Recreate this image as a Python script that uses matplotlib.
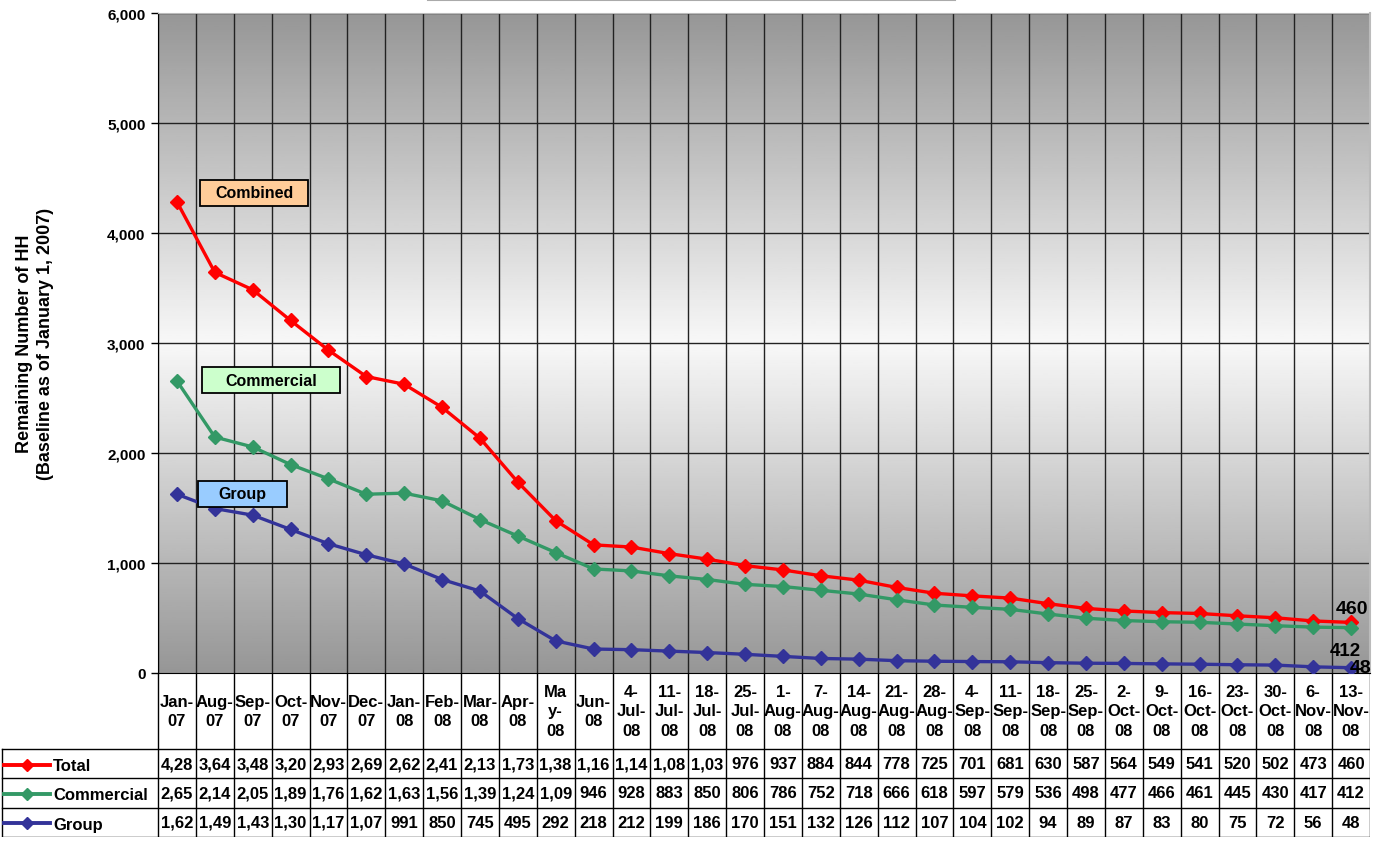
import matplotlib
matplotlib.use("Agg")
import matplotlib.pyplot as plt
from matplotlib.lines import Line2D
from matplotlib.patches import Rectangle
import matplotlib.ticker as mtick
import numpy as np

plt.rcParams["font.family"] = ["Liberation Sans", "DejaVu Sans"]

# ---- data ----
period_labels = [
    "Jan-\n07", "Aug-\n07", "Sep-\n07", "Oct-\n07", "Nov-\n07", "Dec-\n07",
    "Jan-\n08", "Feb-\n08", "Mar-\n08", "Apr-\n08", "Ma\ny-\n08", "Jun-\n08",
    "4-\nJul-\n08", "11-\nJul-\n08", "18-\nJul-\n08", "25-\nJul-\n08",
    "1-\nAug-\n08", "7-\nAug-\n08", "14-\nAug-\n08", "21-\nAug-\n08",
    "28-\nAug-\n08", "4-\nSep-\n08", "11-\nSep-\n08", "18-\nSep-\n08",
    "25-\nSep-\n08", "2-\nOct-\n08", "9-\nOct-\n08", "16-\nOct-\n08",
    "23-\nOct-\n08", "30-\nOct-\n08", "6-\nNov-\n08", "13-\nNov-\n08",
]
total = [4283, 3642, 3484, 3205, 2935, 2695, 2625, 2415, 2135, 1735, 1385,
         1165, 1145, 1085, 1035, 976, 937, 884, 844, 778, 725, 701, 681, 630,
         587, 564, 549, 541, 520, 502, 473, 460]
commercial = [2655, 2145, 2055, 1895, 1765, 1625, 1635, 1565, 1395, 1245,
              1095, 946, 928, 883, 850, 806, 786, 752, 718, 666, 618, 597, 579,
              536, 498, 477, 466, 461, 445, 430, 417, 412]
group = [1625, 1495, 1435, 1305, 1175, 1075, 991, 850, 745, 495, 292, 218,
         212, 199, 186, 170, 151, 132, 126, 112, 107, 104, 102, 94, 89, 87, 83,
         80, 75, 72, 56, 48]

series = [
    ("Total", total, "#ff0000"),
    ("Commercial", commercial, "#339966"),
    ("Group", group, "#333399"),
]

# callout boxes: label, face colour, box in pixels (left, top, right, bottom)
callouts = [
    ("Combined", "#ffcc99", (200, 181, 308, 207)),
    ("Commercial", "#ccffcc", (202, 368, 340, 394)),
    ("Group", "#99ccff", (198, 482, 287, 508)),
]

# ---- layout (pixels) ----
W, H = 1384, 845
PL, PR, PT, PB = 158, 1370, 14, 674
TB = 838
n = len(total)
cw = (PR - PL) / n

fig = plt.figure(figsize=(W / 100, H / 100), dpi=100)
ax = fig.add_axes([PL / W, 1 - PB / H, (PR - PL) / W, (PB - PT) / H])
tab = fig.add_axes([0, 1 - TB / H, PR / W, (TB - PB) / H])

x = np.arange(n)

# gradient background
grad = np.concatenate([np.linspace(0.59, 0.97, 128),
                       np.linspace(0.97, 0.59, 128)]).reshape(-1, 1)
ax.imshow(grad, extent=(-0.5, n - 0.5, 0, 6000), aspect="auto", cmap="gray",
          vmin=0, vmax=1, zorder=0)

for b in np.arange(n + 1) - 0.5:
    ax.axvline(b, color="#222222", linewidth=1, zorder=1)
for lvl in range(1000, 6001, 1000):
    ax.axhline(lvl, color="#222222", linewidth=1, zorder=1)

for name, vals, col in series:
    ax.plot(x, vals, color=col, linewidth=2.4, marker="D", markersize=7,
            zorder=3)

ax.set_xlim(-0.5, n - 0.5)
ax.set_ylim(0, 6000)
ax.set_xticks([])
ax.set_yticks(range(0, 6001, 1000))
ax.yaxis.set_major_formatter(mtick.FuncFormatter(lambda v, p: f"{int(v):,}"))
for t in ax.get_yticklabels():
    t.set_fontweight("bold")
    t.set_fontsize(11)
ax.tick_params(axis="y", length=5, width=1, pad=4)
ax.spines["left"].set_color("black")
ax.spines["bottom"].set_color("black")
ax.spines["top"].set_color("#bbbbbb")
ax.spines["right"].set_color("#bbbbbb")
ax.spines["right"].set_linewidth(1.5)

ax.set_ylabel("Remaining Number of HH\n(Baseline as of January 1, 2007)",
              fontsize=13, fontweight="bold", labelpad=38, linespacing=1.3)

# series callouts
for label, fc, (l, t, r, b) in callouts:
    fig.add_artist(Rectangle((l / W, 1 - b / H), (r - l) / W, (b - t) / H,
                             transform=fig.transFigure, facecolor=fc,
                             edgecolor="black", linewidth=1.3, zorder=5))
    fig.text((l + r) / 2 / W, 1 - (t + b) / 2 / H, label, ha="center",
             va="center", fontsize=11.5, fontweight="bold", zorder=6)

# end labels
ax.annotate(f"{total[-1]}", (x[-1], total[-1]), xytext=(1, 10),
            textcoords="offset points", ha="center", va="center",
            fontsize=14, fontweight="bold", annotation_clip=False, zorder=5)
ax.annotate(f"{commercial[-1]}", (x[-1], commercial[-1]), xytext=(-4, -16.5),
            textcoords="offset points", ha="center", va="center",
            fontsize=13.5, fontweight="bold", annotation_clip=False, zorder=5)
ax.annotate(f"{group[-1]}", (x[-1], group[-1]), xytext=(7, 0),
            textcoords="offset points", ha="center", va="center",
            fontsize=14, fontweight="bold", annotation_clip=False, zorder=5)

# ---- data table ----
tab.set_xlim(-0.5 - PL / cw, n - 0.5)
tab.set_ylim(TB, PB)
tab.axis("off")

row_top = 750
row_h = (TB - row_top) / 3

for b in np.arange(n + 1) - 0.5:
    tab.plot([b, b], [PB, TB], color="black", linewidth=1)
left_edge = -0.5 - PL / cw + 0.05
for k in range(4):
    yy = row_top + k * row_h
    tab.plot([left_edge, n - 0.5], [yy, yy], color="black", linewidth=1)
tab.plot([left_edge, left_edge], [row_top, TB], color="black", linewidth=1)

for i, lab in enumerate(period_labels):
    tab.text(i, 712, lab, ha="center", va="center", fontsize=12,
             fontweight="bold", linespacing=1.4)


def cell_text(v):
    # the cells are too narrow for four digits, so the text gets cut
    return f"{v:,}"[:4]


for r, (name, vals, col) in enumerate(series):
    yc = row_top + (r + 0.5) * row_h
    for i, v in enumerate(vals):
        tab.text(i, yc, cell_text(v), ha="center", va="center", fontsize=12,
                 fontweight="bold")
    fy = 1 - (yc + 1) / H
    fig.add_artist(Line2D([4 / W, 50 / W], [fy, fy], color=col, linewidth=2.8,
                          transform=fig.transFigure))
    fig.add_artist(Line2D([27 / W], [fy], color=col, marker="D", markersize=6,
                          transform=fig.transFigure))
    fig.text(53 / W, 1 - (yc + 2) / H, name, ha="left", va="center",
             fontsize=12, fontweight="bold")

# edge of the title box cut off at the top
fig.add_artist(Line2D([428 / W, 955 / W], [0.999, 0.999], color="#aaaaaa",
                      linewidth=1.5, transform=fig.transFigure))

fig.savefig("out.png", dpi=100)
